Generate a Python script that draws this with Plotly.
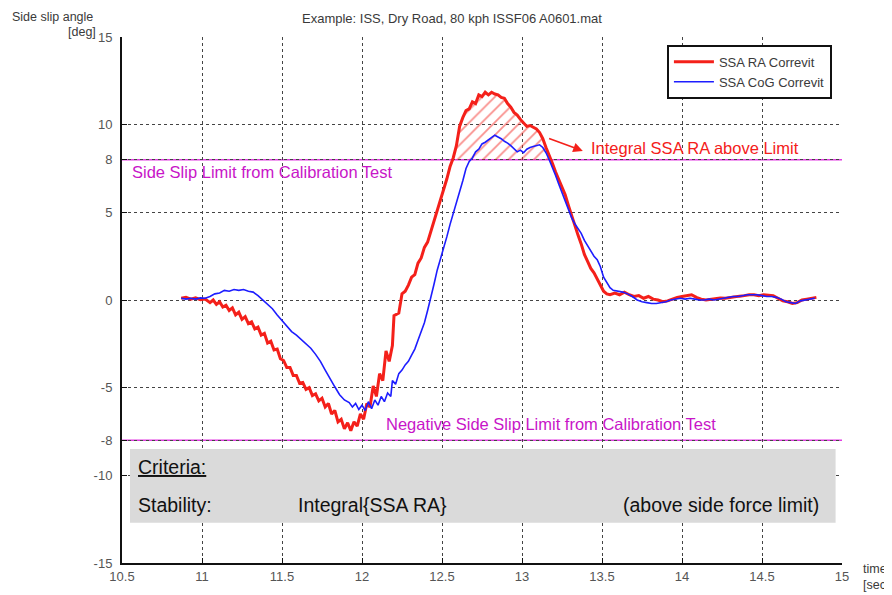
import plotly.graph_objects as go

# ---------------- data ----------------
red_t = [10.87, 10.90, 10.93, 10.96, 10.99, 11.02, 11.05, 11.07, 11.09, 11.11, 11.13, 11.15, 11.17, 11.19,
         11.21, 11.23, 11.25, 11.27, 11.29, 11.31, 11.33, 11.35, 11.37, 11.39, 11.41, 11.43, 11.45, 11.47,
         11.49, 11.51, 11.53, 11.55, 11.57, 11.59, 11.61, 11.63, 11.65, 11.67, 11.69, 11.71, 11.73, 11.75,
         11.77, 11.79, 11.81, 11.83, 11.85, 11.87, 11.89, 11.91, 11.93, 11.95, 11.97, 11.99, 12.01, 12.03,
         12.05, 12.07, 12.09, 12.11, 12.13, 12.15, 12.17, 12.19, 12.20, 12.23, 12.25, 12.27, 12.29, 12.31,
         12.33, 12.35, 12.37, 12.39, 12.41, 12.43, 12.45, 12.47, 12.49, 12.51, 12.53, 12.55, 12.57, 12.59,
         12.61, 12.63, 12.65, 12.67, 12.69, 12.71, 12.73, 12.75, 12.77, 12.79, 12.81, 12.83, 12.85, 12.87,
         12.89, 12.91, 12.93, 12.95, 12.97, 12.99, 13.01, 13.03, 13.05, 13.07, 13.09, 13.11, 13.13, 13.15,
         13.17, 13.19, 13.21, 13.23, 13.25, 13.27, 13.29, 13.31, 13.33, 13.35, 13.37, 13.39, 13.41, 13.43,
         13.45, 13.47, 13.49, 13.51, 13.53, 13.55, 13.58, 13.61, 13.64, 13.67, 13.70, 13.73, 13.76, 13.79,
         13.82, 13.85, 13.88, 13.91, 13.94, 13.97, 14.00, 14.03, 14.06, 14.09, 14.12, 14.15, 14.18, 14.21,
         14.24, 14.27, 14.30, 14.33, 14.36, 14.39, 14.42, 14.45, 14.48, 14.51, 14.54, 14.57, 14.60, 14.63,
         14.66, 14.69, 14.72, 14.75, 14.78, 14.81, 14.84]
red_ssa = [0.10, 0.15, 0.05, 0.12, 0.02, 0.05, -0.15, 0.0, -0.25, -0.1, -0.4, -0.3, -0.6, -0.45,
           -0.85, -0.7, -1.1, -0.95, -1.35, -1.25, -1.65, -1.55, -2.0, -1.9, -2.45, -2.35, -2.85, -2.8,
           -3.35, -3.45, -3.85, -3.85, -4.3, -4.3, -4.75, -4.7, -5.1, -5.0, -5.45, -5.35, -5.75, -5.6,
           -6.1, -5.9, -6.5, -6.3, -6.95, -6.8, -7.35, -7.0, -7.45, -6.95, -7.2, -6.5, -6.8, -5.9,
           -6.1, -4.9, -5.5, -4.2, -4.6, -2.9, -3.5, -2.6, -0.9, -0.75, 0.35, 0.5, 0.85, 1.3,
           1.45, 2.1, 2.4, 3.0, 3.3, 3.9, 4.4, 5.0, 5.6, 6.3, 6.9, 7.6, 8.1, 8.8,
           9.9, 10.4, 10.8, 10.9, 11.3, 11.2, 11.7, 11.6, 11.85, 11.7, 11.85, 11.75, 11.7, 11.55,
           11.5, 11.2, 11.0, 10.7, 10.55, 10.3, 10.1, 9.9, 9.95, 9.85, 9.75, 9.55, 9.2, 8.7,
           8.3, 7.8, 7.3, 6.9, 6.4, 6.0, 5.4, 4.8, 4.2, 3.7, 3.2, 2.6, 2.2, 1.8,
           1.55, 1.2, 0.8, 0.5, 0.35, 0.3, 0.4, 0.3, 0.45, 0.3, 0.2, 0.25, 0.1, 0.2,
           0.05, 0.0, -0.1, -0.05, 0.05, 0.15, 0.2, 0.25, 0.3, 0.15, 0.05, 0.0, 0.05, 0.1,
           0.12, 0.1, 0.15, 0.2, 0.22, 0.25, 0.3, 0.3, 0.25, 0.3, 0.28, 0.25, 0.1, -0.05,
           -0.1, -0.2, -0.15, 0.0, 0.05, 0.1, 0.15]

blue_t = [10.87, 10.90, 10.93, 10.96, 10.99, 11.02, 11.05, 11.08, 11.11, 11.14, 11.17, 11.20, 11.23, 11.26,
          11.29, 11.32, 11.35, 11.38, 11.41, 11.44, 11.47, 11.50, 11.53, 11.56, 11.59, 11.62, 11.65, 11.68,
          11.71, 11.74, 11.77, 11.80, 11.83, 11.86, 11.89, 11.92, 11.94, 11.96, 11.98, 12.00, 12.02, 12.04,
          12.06, 12.08, 12.10, 12.12, 12.14, 12.16, 12.18, 12.19, 12.21, 12.23, 12.25, 12.27, 12.29, 12.31,
          12.33, 12.35, 12.37, 12.39, 12.41, 12.43, 12.45, 12.47, 12.49, 12.51, 12.53, 12.55, 12.57, 12.59,
          12.61, 12.63, 12.65, 12.67, 12.69, 12.71, 12.73, 12.75, 12.77, 12.79, 12.81, 12.83, 12.85, 12.87,
          12.89, 12.91, 12.93, 12.95, 12.97, 12.99, 13.01, 13.03, 13.05, 13.07, 13.09, 13.11, 13.13, 13.15,
          13.17, 13.19, 13.21, 13.23, 13.25, 13.27, 13.29, 13.31, 13.33, 13.35, 13.37, 13.39, 13.41, 13.43,
          13.45, 13.47, 13.49, 13.51, 13.53, 13.55, 13.57, 13.60, 13.63, 13.66, 13.69, 13.72, 13.75, 13.78,
          13.81, 13.84, 13.87, 13.90, 13.93, 13.96, 13.99, 14.02, 14.05, 14.08, 14.11, 14.14, 14.17, 14.20,
          14.23, 14.26, 14.29, 14.32, 14.35, 14.38, 14.41, 14.44, 14.47, 14.50, 14.53, 14.56, 14.59, 14.62,
          14.65, 14.68, 14.71, 14.74, 14.77, 14.80, 14.83]
blue_ssa = [0.10, 0.05, 0.1, 0.05, 0.12, 0.1, 0.2, 0.35, 0.4, 0.55, 0.5, 0.6, 0.55, 0.6,
            0.5, 0.45, 0.25, 0.0, -0.25, -0.5, -0.85, -1.15, -1.5, -1.8, -2.0, -2.25, -2.5, -2.75,
            -3.1, -3.5, -4.0, -4.5, -4.95, -5.4, -5.7, -5.85, -6.1, -5.9, -6.25, -6.0, -6.3, -5.8,
            -6.2, -5.7, -6.0, -5.5, -5.8, -5.3, -5.5, -4.6, -4.8, -4.2, -4.0, -3.7, -3.5, -3.15,
            -2.8, -2.3, -1.8, -1.3, -0.6, 0.1, 0.9, 1.7, 2.3, 2.9, 3.6, 4.3, 4.9, 5.5,
            6.2, 6.8, 7.5, 7.9, 8.1, 8.45, 8.6, 8.9, 9.0, 9.15, 9.3, 9.4, 9.3, 9.2,
            9.05, 8.95, 8.8, 8.6, 8.45, 8.55, 8.4, 8.6, 8.7, 8.75, 8.8, 8.85, 8.7, 8.4,
            8.0, 7.6, 7.1, 6.6, 6.1, 5.6, 5.1, 4.7, 4.35, 4.05, 3.8, 3.4, 3.1, 2.8,
            2.5, 2.3, 1.9, 1.3, 1.0, 0.7, 0.55, 0.5, 0.45, 0.35, 0.2, 0.0, -0.1, -0.15,
            -0.2, -0.2, -0.15, -0.1, 0.0, 0.05, 0.1, 0.05, 0.1, 0.05, 0.0, 0.0, 0.05, 0.0,
            0.05, 0.1, 0.15, 0.2, 0.2, 0.25, 0.3, 0.3, 0.3, 0.25, 0.2, 0.2, 0.15, 0.05,
            -0.1, -0.15, -0.2, -0.05, 0.0, 0.05, 0.1]

side_slip_limit = 8
neg_side_slip_limit = -8

x_ticks = [10.5, 11, 11.5, 12, 12.5, 13, 13.5, 14, 14.5, 15]
x_tick_labels = ["10.5", "11", "11.5", "12", "12.5", "13", "13.5", "14", "14.5", "15"]
y_ticks = [-15, -10, -8, -5, 0, 5, 8, 10, 15]
y_tick_labels = ["-15", "-10", "-8", "-5", "0", "5", "8", "10", "15"]

RED = "#f4201a"
BLUE = "#1d1dff"
MAG_LINE = "#e23be2"
MAG_TEXT = "#c815c8"
TXT = "#3a3a3a"
FONT = "Liberation Sans, Arial, sans-serif"

# hatched area of red SSA above the limit (peak region)
hx, hy = [], []
for t, v in zip(red_t, red_ssa):
    if 12.5 < t < 13.3 and v >= side_slip_limit:
        hx.append(t)
        hy.append(v)
poly_x = [hx[0]] + hx + [hx[-1]]
poly_y = [side_slip_limit] + hy + [side_slip_limit]

fig = go.Figure()

fig.add_trace(go.Scatter(
    x=poly_x, y=poly_y, mode="lines", fill="toself",
    line=dict(width=0, color="rgba(0,0,0,0)"),
    fillcolor="rgba(0,0,0,0)",
    fillpattern=dict(shape="/", fgcolor=RED, bgcolor="rgba(0,0,0,0)", size=9, solidity=0.2),
    showlegend=False, hoverinfo="skip"))

fig.add_trace(go.Scatter(x=red_t, y=red_ssa, mode="lines", name="SSA RA Correvit",
                         line=dict(color=RED, width=3)))
fig.add_trace(go.Scatter(x=blue_t, y=blue_ssa, mode="lines", name="SSA CoG Correvit",
                         line=dict(color=BLUE, width=1.6)))

# limit lines
for lim in (side_slip_limit, neg_side_slip_limit):
    fig.add_shape(type="line", xref="paper", x0=0, x1=1, yref="y", y0=lim, y1=lim,
                  line=dict(color=MAG_LINE, width=1.6), layer="below")

# criteria box
fig.add_shape(type="rect", xref="x", yref="y", x0=10.55, x1=14.96, y0=-12.7, y1=-8.5,
              fillcolor="#dadada", line=dict(width=0), layer="above")

ann = []
ann.append(dict(text="Side Slip Limit from Calibration Test", x=10.55, y=7.3, xref="x", yref="y",
                xanchor="left", yanchor="middle", showarrow=False,
                font=dict(family=FONT, size=16.5, color=MAG_TEXT)))
ann.append(dict(text="Negative Side Slip Limit from Calibration Test", x=12.14, y=-7.05, xref="x", yref="y",
                xanchor="left", yanchor="middle", showarrow=False,
                font=dict(family=FONT, size=16.5, color=MAG_TEXT)))
ann.append(dict(text="Integral SSA RA above Limit", x=13.42, y=8.65, xref="x", yref="y",
                xanchor="left", yanchor="middle", showarrow=False,
                font=dict(family=FONT, size=16.5, color=RED)))
ann.append(dict(text="", x=13.38, y=8.5, xref="x", yref="y", ax=13.16, ay=9.25, axref="x", ayref="y",
                showarrow=True, arrowhead=2, arrowsize=1.2, arrowwidth=1.6, arrowcolor=RED))
ann.append(dict(text="Criteria:", x=10.585, y=-9.5, xref="x", yref="y", xanchor="left", yanchor="middle",
                showarrow=False, font=dict(family=FONT, size=19.5, color="#111", lineposition="under")))
ann.append(dict(text="Stability:", x=10.585, y=-11.7, xref="x", yref="y", xanchor="left", yanchor="middle",
                showarrow=False, font=dict(family=FONT, size=19.5, color="#111")))
ann.append(dict(text="Integral{SSA RA}", x=11.59, y=-11.7, xref="x", yref="y", xanchor="left", yanchor="middle",
                showarrow=False, font=dict(family=FONT, size=19.5, color="#111")))
ann.append(dict(text="(above side force limit)", x=14.87, y=-11.7, xref="x", yref="y", xanchor="right",
                yanchor="middle", showarrow=False, font=dict(family=FONT, size=19.5, color="#111")))
# titles / axis labels
ann.append(dict(text="Example: ISS, Dry Road, 80 kph ISSF06 A0601.mat", x=0.458, y=1.036, xref="paper",
                yref="paper", xanchor="center", yanchor="middle", showarrow=False,
                font=dict(family=FONT, size=13, color=TXT)))
ann.append(dict(text="Side slip angle", x=-0.155, y=1.056, xref="paper", yref="paper", xanchor="left",
                yanchor="top", showarrow=False, font=dict(family=FONT, size=12.5, color=TXT)))
ann.append(dict(text="[deg]", x=-0.033, y=1.01, xref="paper", yref="paper", xanchor="right",
                yanchor="middle", showarrow=False, font=dict(family=FONT, size=12.5, color=TXT)))
ann.append(dict(text="time<br>[sec]", x=1.026, y=0.006, xref="paper", yref="paper", xanchor="left",
                yanchor="top", align="left", showarrow=False, font=dict(family=FONT, size=12.5, color=TXT)))
fig.update_layout(annotations=ann)

fig.update_layout(
    width=892, height=595,
    margin=dict(l=114, r=58, t=29, b=40),
    paper_bgcolor="white", plot_bgcolor="white",
    font=dict(family=FONT, size=13, color=TXT),
    legend=dict(x=0.986, y=0.985, xanchor="right", yanchor="top", bgcolor="white",
                bordercolor="#111", borderwidth=2, font=dict(family=FONT, size=13, color=TXT),
                itemwidth=40),
)
fig.update_xaxes(range=[10.5, 15], tickvals=x_ticks, ticktext=x_tick_labels,
                 showgrid=True, gridcolor="#444", griddash="dot", gridwidth=1,
                 showline=True, linecolor="#111", linewidth=2, zeroline=False,
                 ticks="inside", ticklen=5, tickcolor="#111", tickfont=dict(size=13, color="#555"))
fig.update_yaxes(range=[-15, 15], tickvals=y_ticks, ticktext=y_tick_labels,
                 showgrid=True, gridcolor="#444", griddash="dot", gridwidth=1,
                 showline=True, linecolor="#111", linewidth=2, zeroline=False,
                 ticks="inside", ticklen=5, tickcolor="#111", tickfont=dict(size=13, color="#555"),
                 ticklabelstandoff=5)

fig.write_html("out.html")
